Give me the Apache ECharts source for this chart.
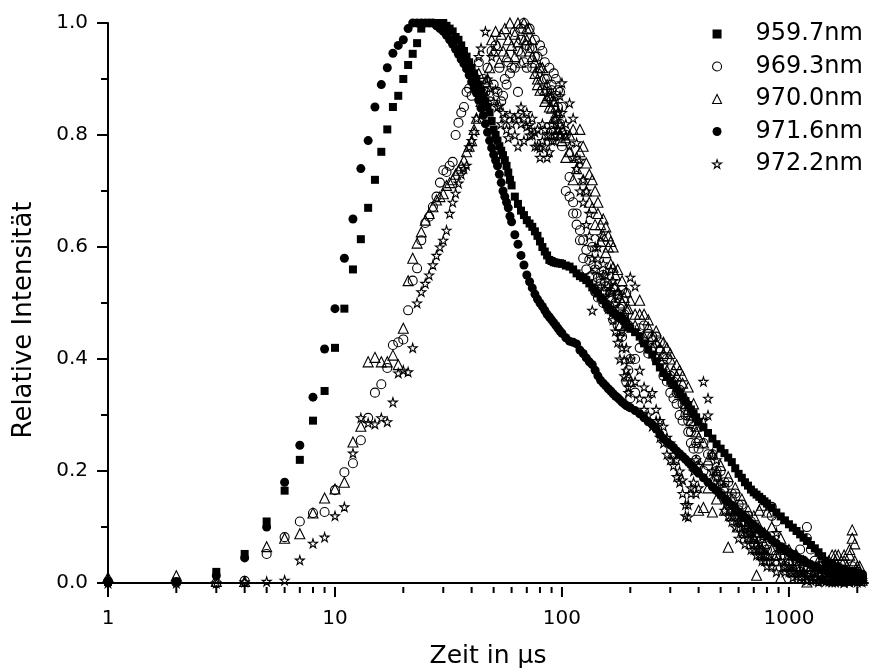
<!DOCTYPE html>
<html>
<head>
<meta charset="utf-8">
<script src="https://cdn.jsdelivr.net/npm/echarts@6/dist/echarts.min.js"></script>
<style>html,body{margin:0;padding:0;background:#fff}#chart{width:874px;height:669px}</style>
</head>
<body>
<div id="chart"></div>
<script>
// gemeinsame Zeitachse (µs)
var zeit = [1,2,3,4,5,6,7,8,9,10,11,12,13,14,15,16,17,18,19,20,21,22,23,24,25,26,27,28,29,30,
  31,32,33,34,35,36,37,38,39,40,41,42,43,44,45,46,47,48,49,50,51,52,53,54,55,56,57,58,59,60,
  62,64,66,68,70,72,74,76,78,80,82,84,86,88,90,92,94,96,98,100,
  104,108,112,116,120,124,128,132,136,140,144,148,152,156,160,164,168,172,176,180,184,188,192,196,200,
  210,220,230,240,250,260,270,280,290,300,310,320,330,340,350,360,370,380,390,400,
  420,440,460,480,500,520,540,560,580,600,620,640,660,680,700,720,740,760,780,800,
  840,880,920,960,1000,1040,1080,1120,1160,1200,
  1250,1300,1350,1400,1450,1500,1550,1600,1650,1700,1750,1800,1850,1900,1950,2000,2050,2100];

var s959 = [0.002,0.003,0.02,0.052,0.11,0.165,0.22,0.29,0.343,0.42,0.49,0.56,0.614,0.67,0.72,0.77,0.81,0.85,0.87,0.90,
  0.925,0.945,0.964,0.99,1.0,1.0,1.0,1.0,1.0,1.0,0.995,0.99,0.985,0.975,0.97,0.96,0.95,0.94,0.93,0.92,
  0.91,0.90,0.89,0.88,0.87,0.86,0.85,0.84,0.825,0.81,0.80,0.79,0.78,0.772,0.764,0.755,0.745,0.733,0.72,0.71,
  0.69,0.677,0.665,0.657,0.648,0.642,0.636,0.628,0.62,0.61,0.60,0.592,0.585,0.577,0.575,0.573,0.572,0.571,0.571,0.57,
  0.567,0.565,0.56,0.553,0.548,0.545,0.541,0.535,0.528,0.522,0.517,0.51,0.505,0.498,0.492,0.487,0.483,0.48,0.477,0.474,0.471,0.468,0.463,0.458,0.454,
  0.448,0.44,0.428,0.417,0.408,0.396,0.385,0.375,0.368,0.361,0.354,0.347,0.34,0.332,0.325,0.318,0.31,0.303,0.296,0.288,
  0.278,0.268,0.258,0.248,0.24,0.232,0.224,0.216,0.205,0.195,0.188,0.18,0.174,0.167,0.162,0.158,0.154,0.15,0.146,0.142,
  0.135,0.126,0.119,0.112,0.105,0.099,0.093,0.087,0.081,0.075,
  0.068,0.062,0.055,0.048,0.04,0.036,0.033,0.03,0.028,0.026,0.024,0.022,0.021,0.02,0.019,0.018,0.016,0.014];

var s969 = [0.003,0.001,0.0,0.004,0.052,0.082,0.11,0.125,0.127,0.166,0.198,0.214,0.255,0.295,0.34,0.355,0.384,0.425,0.43,0.435,
  0.487,0.54,0.562,0.612,0.643,0.654,0.672,0.69,0.715,0.737,0.734,0.745,0.752,0.80,0.822,0.84,0.85,0.877,0.883,0.87,
  0.905,0.89,0.93,0.87,0.90,0.877,0.92,0.86,0.95,0.89,0.96,0.877,0.92,0.86,0.87,0.90,0.89,0.93,0.91,0.92,
  0.984,0.95,0.99,1.0,0.96,0.99,0.955,0.97,0.94,0.92,0.95,0.93,0.90,0.92,0.89,0.91,0.87,0.88,0.877,0.85,
  0.80,0.725,0.68,0.66,0.63,0.612,0.595,0.577,0.55,0.56,0.545,0.535,0.55,0.52,0.53,0.51,0.525,0.50,0.515,0.49,0.523,0.48,0.518,0.46,0.40,
  0.34,0.455,0.43,0.445,0.42,0.44,0.415,0.39,0.40,0.37,0.36,0.34,0.345,0.32,0.30,0.29,0.27,0.28,0.25,0.24,
  0.25,0.21,0.23,0.19,0.20,0.17,0.18,0.15,0.16,0.13,0.14,0.11,0.12,0.09,0.10,0.08,0.09,0.07,0.08,0.06,
  0.136,0.11,0.05,0.06,0.04,0.05,0.03,0.06,0.03,0.10,
  0.06,0.02,0.03,0.015,0.025,0.01,0.02,0.008,0.015,0.01,0.02,0.006,0.012,0.03,0.01,0.02,0.008,0.015];

var s970 = [0.01,0.013,0.003,0.003,0.065,0.08,0.088,0.125,0.152,0.168,0.18,0.252,0.28,0.395,0.403,0.395,0.395,0.407,0.39,0.455,
  0.54,0.58,0.607,0.627,0.648,0.66,0.672,0.684,0.69,0.695,0.71,0.715,0.72,0.73,0.737,0.745,0.755,0.77,0.78,0.79,
  0.81,0.83,0.91,0.86,0.88,0.895,0.90,0.92,0.97,0.95,0.985,0.96,0.93,0.98,0.95,0.99,0.94,0.97,1.0,0.96,
  0.98,0.966,0.95,1.0,0.97,0.99,0.94,0.91,0.89,0.92,0.90,0.88,0.866,0.87,0.848,0.86,0.83,0.84,0.82,0.81,
  0.795,0.77,0.72,0.76,0.81,0.78,0.75,0.73,0.67,0.70,0.66,0.64,0.62,0.636,0.60,0.61,0.564,0.55,0.518,0.46,0.50,0.51,0.49,0.37,0.36,
  0.48,0.505,0.48,0.457,0.44,0.43,0.42,0.41,0.42,0.40,0.38,0.37,0.38,0.357,0.33,0.31,0.29,0.30,0.27,0.13,
  0.135,0.22,0.127,0.20,0.18,0.17,0.064,0.15,0.13,0.12,0.11,0.12,0.09,0.10,0.08,0.014,0.13,0.139,0.07,0.127,
  0.06,0.05,0.01,0.06,0.04,0.05,0.03,0.04,0.02,0.002,
  0.03,0.02,0.03,0.01,0.02,0.03,0.05,0.04,0.05,0.02,0.04,0.02,0.05,0.095,0.07,0.03,0.02,0.01];

var s971 = [0.003,0.002,0.013,0.045,0.10,0.18,0.246,0.332,0.418,0.49,0.58,0.65,0.74,0.79,0.85,0.89,0.92,0.946,0.96,0.97,
  0.99,1.0,1.0,1.0,1.0,1.0,1.0,0.995,0.99,0.985,0.978,0.97,0.962,0.953,0.944,0.935,0.927,0.918,0.907,0.895,
  0.885,0.875,0.862,0.848,0.835,0.82,0.805,0.79,0.777,0.765,0.755,0.745,0.73,0.715,0.70,0.69,0.68,0.67,0.655,0.645,
  0.622,0.605,0.585,0.568,0.55,0.538,0.527,0.516,0.507,0.50,0.494,0.487,0.48,0.475,0.47,0.465,0.46,0.455,0.45,0.446,
  0.438,0.432,0.43,0.427,0.416,0.41,0.402,0.395,0.39,0.38,0.37,0.362,0.357,0.352,0.347,0.343,0.338,0.334,0.331,0.327,0.323,0.32,0.317,0.315,0.313,
  0.308,0.302,0.295,0.288,0.283,0.275,0.266,0.258,0.252,0.247,0.242,0.236,0.231,0.226,0.221,0.216,0.211,0.206,0.201,0.196,
  0.188,0.18,0.172,0.165,0.158,0.151,0.145,0.139,0.133,0.127,0.122,0.117,0.112,0.107,0.103,0.099,0.095,0.091,0.087,0.084,
  0.077,0.071,0.065,0.06,0.055,0.051,0.047,0.043,0.04,0.036,
  0.033,0.03,0.027,0.024,0.022,0.02,0.018,0.016,0.015,0.013,0.012,0.011,0.01,0.009,0.008,0.008,0.007,0.006];

var s972 = [0.0,0.0,0.0,0.002,0.003,0.005,0.041,0.071,0.082,0.12,0.136,0.232,0.295,0.286,0.284,0.295,0.288,0.323,0.375,0.38,
  0.377,0.42,0.50,0.52,0.535,0.55,0.568,0.585,0.60,0.612,0.63,0.66,0.68,0.696,0.714,0.73,0.74,0.746,0.779,0.79,
  0.806,0.83,0.94,0.955,0.87,0.985,0.90,0.884,0.94,0.86,0.88,0.85,0.853,0.82,0.84,0.83,0.81,0.795,0.836,0.82,
  0.80,0.836,0.82,0.83,0.815,0.818,0.80,0.805,0.78,0.777,0.79,0.81,0.76,0.80,0.79,0.81,0.80,0.84,0.87,0.893,
  0.82,0.857,0.83,0.786,0.755,0.72,0.70,0.66,0.487,0.60,0.58,0.62,0.57,0.55,0.53,0.56,0.54,0.50,0.52,0.44,0.42,0.398,0.38,0.35,0.546,
  0.53,0.38,0.35,0.33,0.34,0.31,0.29,0.28,0.26,0.25,0.23,0.22,0.20,0.184,0.14,0.118,0.17,0.20,0.22,0.21,
  0.36,0.30,0.23,0.19,0.16,0.15,0.12,0.13,0.10,0.11,0.09,0.10,0.08,0.09,0.06,0.07,0.05,0.06,0.04,0.05,
  0.03,0.09,0.04,0.03,0.02,0.03,0.015,0.02,0.01,0.015,
  0.01,0.02,0.005,0.01,0.003,0.008,0.002,0.01,0.003,0.006,0.002,0.008,0.003,0.02,0.005,0.01,0.004,0.006];

// zweite Messpunkte der verrauschten Reihen, ab t = 62 µs (zeit[60] ...)
var s969b = [0.92,0.877,0.97,0.93,0.92,0.955,0.92,0.94,0.91,0.96,0.88,0.90,0.877,0.866,0.88,0.86,0.90,0.85,0.82,0.78,
  0.70,0.69,0.66,0.64,0.612,0.58,0.56,0.546,0.60,0.52,0.51,0.54,0.50,0.53,0.49,0.52,0.47,0.50,0.46,0.48,0.44,0.47,0.36,0.38,0.33,
  0.40,0.42,0.46,0.41,0.44,0.40,0.43,0.37,0.36,0.34,0.33,0.32,0.30,0.29,0.31,0.27,0.25,0.24,0.22,0.21,
  0.20,0.23,0.18,0.20,0.16,0.18,0.14,0.16,0.12,0.14,0.11,0.12,0.09,0.11,0.07,0.09,0.06,0.08,0.05,0.07,
  0.12,0.05,0.06,0.03,0.05,0.02,0.04,0.02,0.04,0.08,
  0.02,0.04,0.01,0.03,0.01,0.02,0.005,0.015,0.01,0.02,0.005,0.015,0.01,0.02,0.005,0.01,0.006,0.01];

var s970b = [0.94,1.0,0.93,0.97,0.99,0.95,0.97,0.93,0.90,0.88,0.92,0.86,0.89,0.85,0.87,0.83,0.85,0.81,0.80,0.79,
  0.76,0.80,0.81,0.74,0.77,0.72,0.70,0.68,0.72,0.64,0.68,0.61,0.65,0.59,0.62,0.57,0.60,0.53,0.56,0.51,0.54,0.48,0.52,0.49,0.505,
  0.46,0.48,0.44,0.47,0.42,0.45,0.40,0.43,0.38,0.41,0.36,0.39,0.34,0.37,0.32,0.35,0.30,0.32,0.28,0.26,
  0.25,0.17,0.23,0.15,0.21,0.13,0.19,0.12,0.17,0.10,0.15,0.09,0.13,0.08,0.12,0.07,0.10,0.06,0.09,0.05,
  0.10,0.04,0.08,0.03,0.06,0.02,0.05,0.015,0.04,0.03,
  0.02,0.01,0.04,0.02,0.03,0.04,0.03,0.05,0.03,0.04,0.05,0.03,0.06,0.08,0.04,0.02,0.03,0.005];

var s972b = [0.83,0.78,0.85,0.79,0.84,0.80,0.83,0.78,0.81,0.76,0.82,0.78,0.80,0.77,0.82,0.79,0.83,0.81,0.80,0.84,
  0.80,0.78,0.76,0.74,0.70,0.68,0.64,0.62,0.58,0.56,0.60,0.53,0.55,0.51,0.49,0.52,0.47,0.45,0.43,0.40,0.45,0.37,0.42,0.34,0.40,
  0.36,0.33,0.31,0.30,0.28,0.29,0.26,0.25,0.23,0.22,0.21,0.19,0.18,0.16,0.12,0.14,0.16,0.18,0.16,0.17,
  0.29,0.33,0.20,0.22,0.18,0.13,0.14,0.11,0.12,0.08,0.10,0.07,0.09,0.06,0.08,0.05,0.06,0.04,0.05,0.03,
  0.04,0.02,0.06,0.02,0.03,0.01,0.02,0.01,0.02,0.005,
  0.005,0.01,0.002,0.006,0.008,0.003,0.005,0.002,0.004,0.003,0.001,0.004,0.002,0.006,0.003,0.002,0.004,0.002];

var namen = ['959.7nm', '969.3nm', '970.0nm', '971.6nm', '972.2nm'];
var xMajor = [1, 10, 100, 1000];
var xMinor = [2,3,4,5,6,7,8,9,20,30,40,50,60,70,80,90,200,300,400,500,600,700,800,900,2000];
var yMajor = [0, 0.2, 0.4, 0.6, 0.8, 1.0];
var yMinor = [0.1, 0.3, 0.5, 0.7, 0.9];

var yMin = -0.007;
var font = 'DejaVu Sans';
var star = 'path://M50,0 L61,35 L98,35 L68,57 L79,91 L50,70 L21,91 L32,57 L2,35 L39,35 Z';
var voll = {color: '#000', opacity: 1};
var offen = {color: 'rgba(255,255,255,0)', borderColor: '#000', borderWidth: 1.1, opacity: 1};

function paare(werte, zweite) {
	var d = zeit.map(function (t, i) { return [t, werte[i]]; });
	if (zweite) {
		zweite.forEach(function (v, i) { d.push([zeit[60 + i], v]); });
	}
	return d;
}

function tickSerie(werte, laenge) {
	return {
		type: 'custom',
		coordinateSystem: 'cartesian2d',
		silent: true,
		clip: false,
		data: werte.map(function (v) { return [v, yMin]; }),
		renderItem: function (params, api) {
			var p = api.coord([api.value(0), yMin]);
			return {
				type: 'line',
				shape: {x1: p[0], y1: p[1], x2: p[0], y2: p[1] + laenge},
				style: {stroke: '#000', lineWidth: 2}
			};
		}
	};
}

var chart = echarts.init(document.getElementById('chart'));
var option = {
	animation: false,
	backgroundColor: '#fff',
	grid: {left: 108, right: 6, top: 23, bottom: 82, outerBoundsMode: 'none'},
	legend: {
		orient: 'vertical',
		left: 707,
		top: 17,
		itemWidth: 9,
		itemHeight: 9,
		itemGap: 8.5,
		selectedMode: false,
		data: [
			{name: namen[0], icon: 'rect', itemStyle: voll},
			{name: namen[1], icon: 'circle', itemStyle: offen},
			{name: namen[2], icon: 'triangle', itemStyle: offen},
			{name: namen[3], icon: 'circle', itemStyle: voll},
			{name: namen[4], icon: star, itemStyle: offen}
		],
		textStyle: {fontFamily: font, fontSize: 24, color: '#000', padding: [0, 0, 0, 29]}
	},
	graphic: [{
		type: 'text',
		x: 24,
		y: 320,
		rotation: Math.PI / 2,
		style: {
			text: 'Relative Intensität',
			fontFamily: font,
			fontSize: 26,
			fill: '#000',
			align: 'center',
			verticalAlign: 'middle'
		}
	}],
	xAxis: {
		type: 'log',
		logBase: 10,
		min: 1,
		max: 2230,
		name: 'Zeit in µs',
		nameLocation: 'middle',
		nameGap: 57,
		nameTextStyle: {fontFamily: font, fontSize: 25, color: '#000'},
		axisLine: {lineStyle: {color: '#000', width: 2}},
		axisTick: {show: false},
		splitLine: {show: false},
		axisLabel: {
			margin: 22,
			fontFamily: font,
			fontSize: 20,
			color: '#000',
			formatter: function (v) {
				var r = Math.round(v);
				return xMajor.indexOf(r) >= 0 ? String(r) : '';
			}
		}
	},
	yAxis: [{
		type: 'value',
		min: yMin,
		max: 1.0,
		axisLine: {show: true, lineStyle: {color: '#000', width: 2}},
		axisTick: {show: true, length: 11, lineStyle: {width: 2, color: '#000'}, customValues: yMajor},
		axisLabel: {
			margin: 20,
			fontFamily: font,
			fontSize: 20,
			color: '#000',
			customValues: yMajor,
			formatter: function (v) { return v.toFixed(1); }
		},
		splitLine: {show: false}
	}, {
		type: 'value',
		position: 'left',
		min: yMin,
		max: 1.0,
		axisLine: {show: false},
		axisTick: {show: true, length: 7, lineStyle: {width: 2, color: '#000'}, customValues: yMinor},
		axisLabel: {show: false},
		splitLine: {show: false}
	}],
	series: [
		{name: namen[0], type: 'scatter', symbol: 'rect', symbolSize: 8, itemStyle: voll, data: paare(s959)},
		{name: namen[1], type: 'scatter', symbol: 'circle', symbolSize: 9, itemStyle: offen, data: paare(s969, s969b)},
		{name: namen[2], type: 'scatter', symbol: 'triangle', symbolSize: 10, itemStyle: offen, data: paare(s970, s970b)},
		{name: namen[3], type: 'scatter', symbol: 'circle', symbolSize: 9, itemStyle: voll, data: paare(s971)},
		{name: namen[4], type: 'scatter', symbol: star, symbolSize: 9, itemStyle: offen, data: paare(s972, s972b)},
		tickSerie(xMajor, 10),
		tickSerie(xMinor, 6)
	]
};
chart.setOption(option);
</script>
</body>
</html>
